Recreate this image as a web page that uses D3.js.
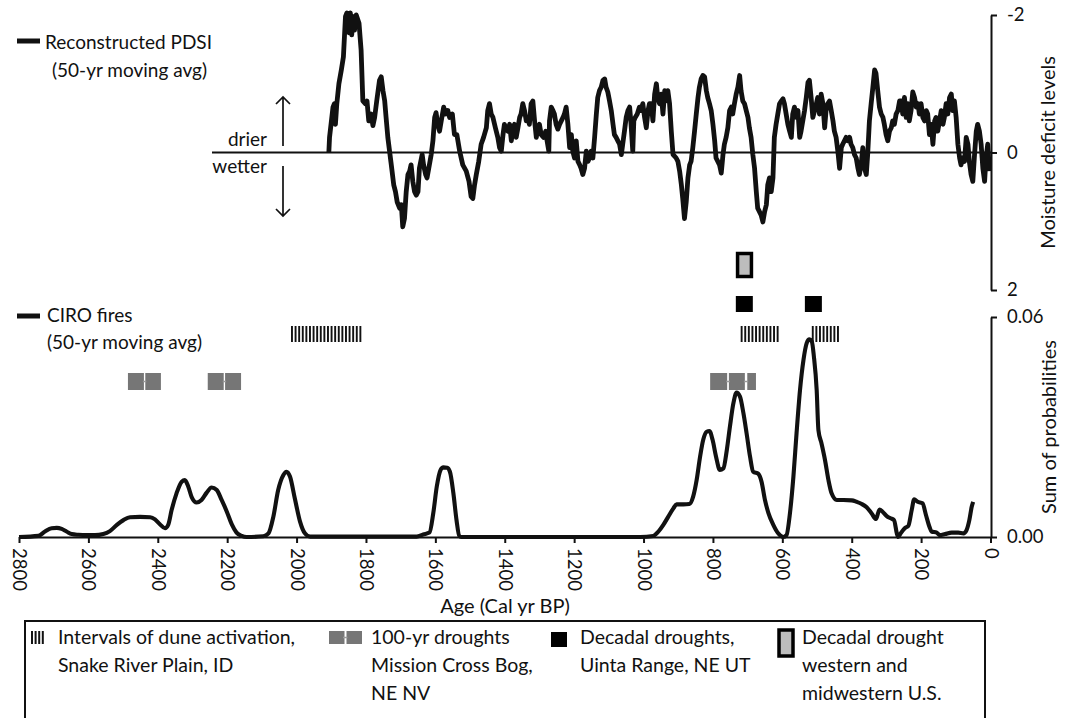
<!DOCTYPE html>
<html>
<head>
<meta charset="utf-8">
<script src="https://cdn.jsdelivr.net/npm/d3@7"></script>
<style>
  html, body { margin: 0; padding: 0; background: #ffffff; }
  svg { display: block; }
  text { font-family: Lato, "Noto Sans", sans-serif; fill: #111; }
</style>
</head>
<body>
<svg id="chart" width="1068" height="718"></svg>
<script>
// ---------------- DATA ----------------
const xTicks = [2800, 2600, 2400, 2200, 2000, 1800, 1600, 1400, 1200, 1000, 800, 600, 400, 200, 0];
const pdsiTicks = [-2, 0, 2];
const fireTicks = [0, 0.06];

// Reconstructed PDSI (50-yr moving avg), axis values (negative = drier, plotted upward)
const pdsiYears = [1907,1905,1895,1891,1888,1884,1878,1871,1865,1859,1855,1849,1845,1841,1838,1833,1828,1820,1814,1809,
1802,1797,1792,1785,1780,1775,1769,1761,1756,1751,1746,1742,1737,1732,1727,1720,1715,1710,1703,1698,
1694,1689,1684,1679,1674,1670,1665,1660,1655,1650,1646,1638,1634,1628,1624,1619,1612,1607,1602,1598,
1593,1588,1583,1576,1571,1564,1559,1551,1545,1538,1530,1521,1511,1503,1497,1492,1487,1482,1475,1468,
1461,1453,1449,1444,1439,1434,1427,1420,1415,1410,1405,1401,1396,1391,1386,1381,1377,1372,1367,1362,
1357,1353,1348,1343,1338,1333,1329,1324,1319,1314,1309,1305,1300,1295,1288,1282,1278,1273,1271,1266,
1261,1257,1252,1247,1242,1237,1232,1228,1223,1218,1213,1208,1204,1199,1194,1189,1184,1180,1175,1170,
1165,1160,1156,1151,1146,1141,1136,1132,1127,1122,1117,1112,1108,1103,1098,1093,1088,1084,1079,1074,
1069,1064,1060,1055,1050,1045,1040,1036,1031,1028,1024,1018,1012,1007,1002,997,992,987,983,978,
973,968,963,959,954,949,944,939,935,930,925,920,915,911,906,901,896,891,887,882,
877,872,867,863,858,853,848,843,839,834,829,824,819,815,810,805,800,795,791,786,
781,776,771,767,762,757,752,747,743,738,733,728,723,719,714,709,704,699,695,690,
685,680,675,671,666,661,656,651,646,642,637,632,627,623,618,613,608,603,598,594,
589,584,579,574,570,565,560,555,550,546,541,536,531,526,522,517,512,507,502,498,
493,488,483,478,474,469,464,459,454,450,445,440,435,430,426,421,416,411,406,402,
397,392,387,382,378,373,368,363,358,354,349,344,339,334,330,325,320,315,310,306,
301,296,291,286,282,277,272,267,262,257,253,248,243,238,234,229,224,219,214,209,
205,200,195,190,185,181,176,171,166,161,157,152,147,142,137,133,128,123,118,113,
109,104,99,94,89,85,80,75,70,65,61,56,51,46,41,37,32,27,22,17,
13,8,3];
const pdsiValues = [0.00,-0.22,-0.66,-0.71,-0.41,-0.71,-1.00,-1.20,-1.39,-1.98,-2.03,-1.74,-2.03,-1.71,-1.98,-1.78,-2.00,-1.88,-1.49,-0.75,
-0.71,-0.75,-0.46,-0.56,-0.39,-0.51,-0.75,-1.05,-1.10,-0.90,-0.75,-0.51,-0.22,-0.02,0.18,0.47,0.57,0.72,0.81,0.76,
1.08,0.96,0.57,0.32,0.27,0.18,0.42,0.57,0.62,0.57,0.23,0.03,0.18,0.32,0.37,0.23,0.03,-0.17,-0.51,-0.58,
-0.41,-0.31,-0.46,-0.66,-0.56,-0.61,-0.51,-0.56,-0.26,-0.26,-0.02,0.18,0.27,0.42,0.64,0.67,0.47,0.32,0.13,-0.12,
-0.22,-0.36,-0.61,-0.71,-0.56,-0.51,-0.36,-0.22,-0.07,-0.02,-0.26,-0.41,-0.34,-0.31,-0.41,-0.17,-0.36,-0.41,-0.22,-0.36,
-0.51,-0.56,-0.71,-0.61,-0.46,-0.51,-0.41,-0.71,-0.75,-0.46,-0.22,-0.36,-0.41,-0.26,-0.22,-0.31,-0.17,-0.02,-0.46,-0.66,
-0.61,-0.56,-0.41,-0.34,-0.41,-0.46,-0.51,-0.56,-0.66,-0.41,-0.07,-0.26,-0.02,0.08,-0.17,0.13,0.18,0.23,0.32,0.23,
-0.02,0.13,0.08,-0.02,0.08,-0.22,-0.56,-0.80,-0.90,-0.95,-1.05,-1.07,-0.95,-0.88,-0.75,-0.61,-0.41,-0.26,-0.22,-0.17,
-0.12,0.03,-0.12,-0.31,-0.51,-0.61,-0.66,-0.41,-0.02,-0.46,-0.51,-0.56,-0.66,-0.61,-0.71,-0.51,-0.36,-0.61,-0.71,-0.71,
-0.46,-0.85,-1.00,-0.80,-0.71,-0.85,-0.56,-0.90,-0.75,-0.90,-0.71,-0.31,0.03,0.05,0.08,0.13,0.27,0.47,0.67,0.96,
0.72,0.37,0.18,0.13,-0.07,-0.31,-0.56,-0.80,-0.95,-1.07,-1.12,-1.10,-0.90,-0.80,-0.71,-0.61,-0.41,-0.17,0.08,0.13,
0.18,0.30,0.03,-0.12,-0.22,-0.36,-0.61,-0.66,-0.56,-0.71,-0.85,-0.95,-1.12,-0.90,-0.75,-0.71,-0.61,-0.51,-0.36,-0.22,
0.03,0.23,0.57,0.81,0.86,0.91,1.01,0.86,0.76,0.47,0.37,0.57,0.37,-0.22,-0.41,-0.56,-0.71,-0.75,-0.78,-0.71,
-0.56,-0.41,-0.31,-0.22,-0.56,-0.66,-0.51,-0.61,-0.22,-0.31,-0.46,-0.61,-0.80,-1.02,-1.05,-0.80,-0.51,-0.61,-0.71,-0.80,
-0.56,-0.85,-0.71,-0.36,-0.61,-0.71,-0.75,-0.61,-0.46,-0.31,-0.22,-0.02,0.23,-0.07,-0.12,-0.17,-0.22,-0.17,-0.22,-0.12,
-0.07,0.03,0.08,0.23,0.32,0.18,-0.07,0.23,0.32,0.03,-0.46,-0.71,-0.95,-1.20,-1.15,-0.90,-0.66,-0.56,-0.51,-0.41,
-0.26,-0.17,-0.31,-0.36,-0.46,-0.41,-0.56,-0.61,-0.75,-0.75,-0.56,-0.80,-0.51,-0.71,-0.46,-0.61,-0.88,-0.80,-0.66,-0.71,
-0.56,-0.71,-0.51,-0.46,-0.61,-0.56,-0.26,-0.41,-0.12,-0.46,-0.51,-0.31,-0.46,-0.61,-0.41,-0.51,-0.71,-0.56,-0.80,-0.85,
-0.61,-0.75,-0.51,-0.12,0.08,0.18,0.08,0.13,-0.22,-0.12,0.13,0.32,0.42,0.03,-0.31,-0.41,-0.31,-0.12,0.23,0.42,
0.08,-0.12,0.27];

// CIRO fires (50-yr moving avg), sum of probabilities
const fireYears = [2800,2744,2725,2706,2691,2677,2663,2648,2629,2605,2581,2557,2538,2518,2499,2480,2451,2422,2408,2394,
2379,2370,2360,2346,2331,2322,2312,2302,2288,2274,2259,2245,2230,2216,2201,2187,2173,2158,2144,2096,
2081,2067,2053,2038,2029,2019,2005,1990,1976,1961,1654,1635,1617,1606,1596,1585,1577,1566,1558,1548,
1539,1531,1524,1010,972,957,943,929,914,905,885,868,857,847,837,828,818,810,801,791,
780,770,760,751,741,732,722,712,703,693,684,669,660,650,640,626,612,597,588,578,
568,559,549,539,530,522,515,509,501,496,487,477,467,458,443,424,400,386,371,357,
343,330,320,311,299,288,278,270,266,259,246,237,227,220,210,196,186,176,170,155,
146,131,112,93,78,69,61,54,50];
const fireValues = [0,0.0003,0.0015,0.0024,0.0025,0.0022,0.0015,0.0008,0.0006,0.0005,0.0005,0.0008,0.0016,0.0033,0.0046,0.0054,0.0055,0.0054,0.0048,0.0035,
0.0024,0.0033,0.0074,0.0119,0.0151,0.0155,0.0137,0.0108,0.0094,0.0101,0.0121,0.0135,0.0128,0.0101,0.0069,0.0035,0.0012,0.0003,0,0.0002,
0.0010,0.0055,0.0128,0.0169,0.0178,0.0165,0.0105,0.0042,0.0010,0.0001,0.0001,0.0007,0.0012,0.0065,0.0137,0.0183,0.0190,0.0189,0.0178,0.0119,
0.0046,0.0003,0,0,0.0003,0.0015,0.0033,0.0055,0.0078,0.0089,0.0089,0.0090,0.0110,0.0155,0.0219,0.0265,0.0287,0.0289,0.0265,0.0219,
0.0183,0.0187,0.0237,0.0301,0.0365,0.0394,0.0383,0.0337,0.0283,0.0219,0.0178,0.0172,0.0151,0.0101,0.0065,0.0033,0.0010,0,0.0005,0.0065,
0.0165,0.0283,0.0401,0.0483,0.0528,0.0539,0.0533,0.0492,0.0401,0.0292,0.0255,0.0210,0.0155,0.0119,0.0101,0.0101,0.0100,0.0096,0.0090,0.0081,
0.0065,0.0049,0.0075,0.0069,0.0057,0.0051,0.0046,0.0010,0,0.0010,0.0025,0.0030,0.0074,0.0103,0.0096,0.0092,0.0060,0.0028,0.0015,0.0012,
0.0005,0.0008,0.0012,0.0012,0.0010,0.0019,0.0046,0.0083,0.0096];

// Event intervals [older, younger] in cal yr BP
const duneIntervals = [[2016, 1813], [720, 609], [515, 429]];
const drought100Yr = [[2486, 2440], [2436, 2391], [2256, 2210], [2206, 2160], [808, 759], [754, 708], [701, 676]];
const decadalUinta = [[734, 685], [535, 486]];
const decadalWestern = [[729, 689]];

// Text
const pdsiLegend = ["Reconstructed PDSI", "(50-yr moving avg)"];
const fireLegend = ["CIRO fires", "(50-yr moving avg)"];
const legendLabels = [
  ["Intervals of dune activation,", "Snake River Plain, ID"],
  ["100-yr droughts", "Mission Cross Bog,", "NE NV"],
  ["Decadal droughts,", "Uinta Range, NE UT"],
  ["Decadal drought", "western and", "midwestern U.S."]
];

// ---------------- LAYOUT ----------------
const svg = d3.select("#chart");
const axisX = 991;
const x = d3.scaleLinear().domain([2800, 0]).range([19, 990.5]);
const yTop = d3.scaleLinear().domain([-2, 2]).range([15, 290]);
const yBot = d3.scaleLinear().domain([0, 0.06]).range([537, 317]);
const ink = "#111";
const grey100 = "#767676";
const tickFont = "18.5px";

// ---- top panel: zero line ----
svg.append("line").attr("x1", 212).attr("x2", axisX).attr("y1", yTop(0)).attr("y2", yTop(0))
  .attr("stroke", ink).attr("stroke-width", 2);

// PDSI line
const pdsi = pdsiYears.map((d, i) => ({ yr: d, v: pdsiValues[i] }));
svg.append("path").datum(pdsi)
  .attr("fill", "none").attr("stroke", ink).attr("stroke-width", 4.8).attr("stroke-linejoin", "round")
  .attr("d", d3.line().x(d => x(d.yr)).y(d => yTop(d.v)));

// right axis top
const gTop = svg.append("g").attr("transform", `translate(${axisX},0)`)
  .call(d3.axisRight(yTop).tickValues(pdsiTicks).tickSize(6).tickSizeOuter(0).tickPadding(10)
    .tickFormat(d => String(d)));
gTop.select(".domain").attr("stroke", ink).attr("stroke-width", 2);
gTop.selectAll(".tick line").attr("stroke", ink).attr("stroke-width", 2);
gTop.selectAll(".tick text").style("font-family", "Lato").style("font-size", tickFont).attr("fill", "#111");

svg.append("text").attr("transform", `translate(1055,${yTop(0)}) rotate(-90)`)
  .attr("text-anchor", "middle").style("font-size", "20px").text("Moisture deficit levels");

// drier / wetter annotation
svg.append("text").attr("x", 267).attr("y", 146).attr("text-anchor", "end").style("font-size", "19px").text("drier");
svg.append("text").attr("x", 267).attr("y", 173).attr("text-anchor", "end").style("font-size", "19px").text("wetter");
const arrowX = 283;
function arrow(y0, y1) {
  const dir = y1 < y0 ? 1 : -1;
  const p = d3.path();
  p.moveTo(arrowX, y0); p.lineTo(arrowX, y1);
  p.moveTo(arrowX - 7, y1 + dir * 7); p.lineTo(arrowX, y1); p.lineTo(arrowX + 7, y1 + dir * 7);
  svg.append("path").attr("d", p.toString()).attr("fill", "none").attr("stroke", ink).attr("stroke-width", 1.7);
}
arrow(146, 97);
arrow(166, 216);

// top-left legends
function lineLegend(yLine, lines, xText1, xText2, y1, y2) {
  svg.append("line").attr("x1", 17).attr("x2", 40).attr("y1", yLine).attr("y2", yLine)
    .attr("stroke", ink).attr("stroke-width", 5);
  svg.append("text").attr("x", xText1).attr("y", y1).style("font-size", "19px").text(lines[0]);
  svg.append("text").attr("x", xText2).attr("y", y2).style("font-size", "19px").text(lines[1]);
}
lineLegend(41, pdsiLegend, 45, 52, 49, 77);
lineLegend(316, fireLegend, 47, 47, 322, 349);

// ---- bottom panel ----
const fire = fireYears.map((d, i) => ({ yr: d, v: fireValues[i] }));
svg.append("path").datum(fire)
  .attr("fill", "none").attr("stroke", ink).attr("stroke-width", 4.1).attr("stroke-linejoin", "round")
  .attr("d", d3.line().x(d => x(d.yr)).y(d => yBot(d.v)).curve(d3.curveMonotoneX));

// x axis
const gX = svg.append("g").attr("transform", `translate(0,${yBot(0)})`)
  .call(d3.axisBottom(x).tickValues(xTicks).tickSize(6).tickSizeOuter(0).tickFormat(d3.format("d")));
gX.select(".domain").attr("stroke", ink).attr("stroke-width", 2);
gX.selectAll(".tick line").attr("stroke", ink).attr("stroke-width", 2);
gX.selectAll(".tick text").attr("transform", "rotate(90)").attr("x", 11).attr("y", 0).attr("dy", "0.35em")
  .style("text-anchor", "start").style("font-family", "Lato").style("font-size", tickFont).attr("fill", "#111");

svg.append("text").attr("x", 505).attr("y", 613).attr("text-anchor", "middle").style("font-size", "20px")
  .text("Age (Cal yr BP)");

// right axis bottom
const gB = svg.append("g").attr("transform", `translate(${axisX},0)`)
  .call(d3.axisRight(yBot).tickValues(fireTicks).tickSize(6).tickSizeOuter(0).tickPadding(10)
    .tickFormat(d3.format(".2f")));
gB.select(".domain").attr("stroke", ink).attr("stroke-width", 2);
gB.selectAll(".tick line").attr("stroke", ink).attr("stroke-width", 2);
gB.selectAll(".tick text").style("font-family", "Lato").style("font-size", tickFont).attr("fill", "#111");

svg.append("text").attr("transform", `translate(1056,427) rotate(-90)`)
  .attr("text-anchor", "middle").style("font-size", "20px").text("Sum of probabilities");

// ---- event markers ----
function hatch(g, x0, x1, y0, h, step, bw) {
  const n = Math.max(1, Math.floor((x1 - x0 - bw) / step) + 1);
  g.selectAll(null).data(d3.range(n)).join("rect")
    .attr("x", i => x0 + i * step).attr("y", y0).attr("width", bw).attr("height", h).attr("fill", ink);
}
const gDune = svg.append("g");
duneIntervals.forEach(([a, b]) => hatch(gDune, x(a), x(b), 326, 16, 3.6, 1.9));

function droughtBars(g, intervals, y0, h) {
  g.selectAll("rect.d").data(intervals).join("rect")
    .attr("x", d => x(d[0])).attr("width", d => x(d[1]) - x(d[0]))
    .attr("y", y0).attr("height", h).attr("fill", grey100);
  const links = [];
  for (let i = 1; i < intervals.length; i++) {
    if (intervals[i - 1][1] - intervals[i][0] < 15) links.push([intervals[i - 1][1], intervals[i][0]]);
  }
  g.selectAll("line.l").data(links).join("line")
    .attr("x1", d => x(d[0]) - 1).attr("x2", d => x(d[1]) + 1)
    .attr("y1", y0 + h / 2).attr("y2", y0 + h / 2).attr("stroke", "#9a9a9a").attr("stroke-width", 1.5);
}
droughtBars(svg.append("g"), drought100Yr, 373, 17);

svg.append("g").selectAll("rect").data(decadalUinta).join("rect")
  .attr("x", d => x(d[0])).attr("width", d => x(d[1]) - x(d[0]))
  .attr("y", 296).attr("height", 16).attr("fill", "#000");

svg.append("g").selectAll("rect").data(decadalWestern).join("rect")
  .attr("x", d => x(d[0])).attr("width", d => x(d[1]) - x(d[0]))
  .attr("y", 253.5).attr("height", 23).attr("fill", "#bdbdbd").attr("stroke", "#000").attr("stroke-width", 3.5);

// ---- bottom legend box ----
svg.append("rect").attr("x", 25).attr("y", 621).attr("width", 960).attr("height", 120)
  .attr("fill", "none").attr("stroke", ink).attr("stroke-width", 2);

const legX = [58, 371, 580, 802];
const gL = svg.append("g");
legendLabels.forEach((lines, i) => {
  lines.forEach((t, j) => {
    gL.append("text").attr("x", legX[i]).attr("y", 644 + j * 28).style("font-size", "19.5px").text(t);
  });
});
// legend symbols
hatch(gL, 31, 45, 631, 13, 3.6, 2);
const sym100 = gL.append("g");
sym100.append("rect").attr("x", 329).attr("y", 631).attr("width", 15.5).attr("height", 13).attr("fill", grey100);
sym100.append("rect").attr("x", 346.5).attr("y", 631).attr("width", 15.5).attr("height", 13).attr("fill", grey100);
sym100.append("line").attr("x1", 343).attr("x2", 347.5).attr("y1", 637.5).attr("y2", 637.5)
  .attr("stroke", "#9a9a9a").attr("stroke-width", 1.5);
gL.append("rect").attr("x", 551).attr("y", 632).attr("width", 16).attr("height", 15).attr("fill", "#000");
gL.append("rect").attr("x", 779).attr("y", 630).attr("width", 14).attr("height", 26)
  .attr("fill", "#bdbdbd").attr("stroke", "#000").attr("stroke-width", 3.5);
</script>
</body>
</html>
